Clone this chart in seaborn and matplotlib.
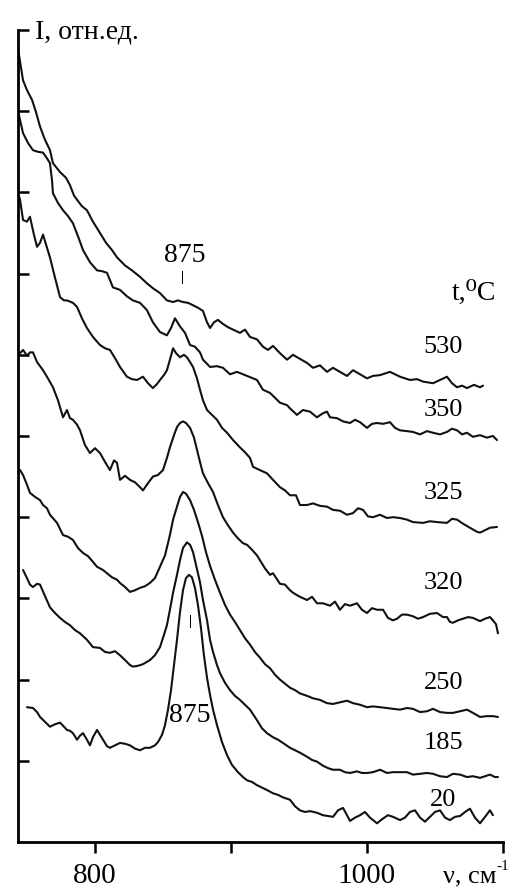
import matplotlib
matplotlib.use("Agg")
import matplotlib.pyplot as plt
import pandas as pd
import seaborn as sns

# IR spectra, wavenumber (cm-1) vs relative intensity
temps = ["530", "350", "325", "320", "250", "185", "20"]

nu_530 = [
    743.4, 744.9, 747.1, 750.0, 753.7, 756.6, 759.6, 763.2, 766.9, 769.1,
    774.3, 778.7, 781.6, 784.6, 786.8, 790.4, 794.1, 798.5, 803.7, 808.1,
    812.5, 816.2, 822.1, 827.2, 833.1, 838.2, 842.6, 847.8, 852.9, 857.4,
    861.0, 864.7, 868.4, 872.1, 875.7, 879.4, 882.4, 884.6, 887.5, 890.4,
    894.1, 897.8, 901.5, 906.6, 910.3, 914.0, 919.1, 923.5, 927.2, 930.9,
    936.0, 941.2, 945.6, 950.7, 955.9, 960.3, 965.4, 970.6, 975.0, 980.1,
    985.3, 989.7, 994.9, 1000.0, 1004.4, 1009.6, 1016.9, 1024.3, 1031.6, 1036.8,
    1041.2, 1048.5, 1053.7, 1058.8, 1062.5, 1066.2, 1069.9, 1073.5, 1078.7, 1083.1,
    1085.3,
]
I_530 = [
    9.78, 9.61, 9.38, 9.26, 9.14, 8.99, 8.81, 8.65, 8.52, 8.36,
    8.25, 8.18, 8.09, 7.96, 7.91, 7.83, 7.78, 7.64, 7.50, 7.38,
    7.29, 7.20, 7.10, 7.04, 6.96, 6.88, 6.82, 6.76, 6.67, 6.65,
    6.67, 6.65, 6.64, 6.61, 6.58, 6.54, 6.40, 6.33, 6.40, 6.43,
    6.38, 6.34, 6.31, 6.27, 6.31, 6.22, 6.19, 6.10, 6.06, 6.11,
    6.02, 5.94, 6.00, 5.95, 5.90, 5.84, 5.87, 5.79, 5.84, 5.79,
    5.74, 5.81, 5.76, 5.71, 5.74, 5.75, 5.79, 5.73, 5.69, 5.70,
    5.67, 5.65, 5.69, 5.73, 5.65, 5.60, 5.62, 5.59, 5.63, 5.60,
    5.62,
]

nu_350 = [
    743.4, 744.9, 747.1, 750.7, 754.4, 758.1, 761.8, 764.7, 766.9, 768.4,
    769.1, 772.8, 776.5, 780.1, 783.8, 787.5, 791.2, 796.3, 801.5, 805.1,
    808.8, 813.2, 818.4, 823.5, 827.9, 833.1, 838.2, 842.6, 847.8, 852.9,
    855.9, 858.8, 862.5, 866.2, 869.9, 873.5, 877.2, 879.4, 884.6, 889.7,
    894.1, 899.3, 904.4, 911.8, 919.1, 923.5, 928.7, 932.4, 936.0, 941.2,
    943.4, 948.5, 952.9, 958.1, 963.2, 967.6, 970.6, 972.8, 977.9, 982.4,
    987.5, 991.2, 994.9, 1000.0, 1003.7, 1007.4, 1011.8, 1016.9, 1020.6, 1024.3,
    1029.4, 1033.8, 1039.0, 1044.1, 1048.5, 1053.7, 1058.8, 1062.5, 1066.2, 1069.9,
    1073.5, 1077.9, 1083.1, 1088.2, 1092.6, 1095.6,
]
I_350 = [
    9.01, 8.89, 8.73, 8.61, 8.52, 8.50, 8.49, 8.42, 8.36, 8.15,
    7.99, 7.87, 7.78, 7.71, 7.62, 7.46, 7.29, 7.14, 7.04, 7.03,
    7.01, 6.83, 6.80, 6.72, 6.67, 6.64, 6.55, 6.40, 6.28, 6.24,
    6.33, 6.45, 6.35, 6.27, 6.12, 6.10, 6.03, 5.94, 5.85, 5.86,
    5.84, 5.76, 5.79, 5.74, 5.69, 5.57, 5.53, 5.47, 5.41, 5.38,
    5.34, 5.26, 5.32, 5.30, 5.23, 5.28, 5.30, 5.23, 5.22, 5.18,
    5.16, 5.20, 5.17, 5.10, 5.15, 5.16, 5.15, 5.17, 5.10, 5.07,
    5.06, 5.05, 5.02, 5.06, 5.04, 5.02, 5.05, 5.09, 5.07, 5.02,
    5.04, 4.99, 5.01, 4.98, 5.00, 4.95,
]

nu_325 = [
    743.4, 744.9, 747.1, 750.0, 752.2, 755.1, 757.4, 759.6, 761.8, 764.7,
    766.9, 770.6, 774.3, 777.2, 779.4, 783.8, 786.8, 790.4, 794.1, 798.5,
    803.7, 807.4, 811.0, 814.7, 818.4, 823.5, 827.2, 830.9, 835.3, 839.0,
    842.6, 845.6, 847.8, 850.7, 852.9, 855.1, 857.4, 859.6, 862.5, 865.4,
    867.6, 869.9, 872.1, 875.0, 877.2, 879.4, 882.4, 886.0, 889.7, 893.4,
    897.1, 901.5, 906.6, 910.3, 914.0, 916.2, 921.3, 926.5, 930.9, 936.0,
    939.7, 943.4, 947.8, 950.7, 955.9, 960.3, 965.4, 970.6, 975.0, 980.1,
    985.3, 989.7, 993.4, 997.1, 1000.7, 1004.4, 1009.6, 1014.7, 1019.1, 1024.3,
    1029.4, 1033.8, 1041.2, 1046.3, 1051.5, 1058.8, 1062.5, 1066.2, 1070.6, 1075.7,
    1080.9, 1083.1, 1086.8, 1090.4, 1095.6,
]
I_325 = [
    7.99, 7.91, 7.66, 7.64, 7.70, 7.48, 7.33, 7.38, 7.48, 7.32,
    7.20, 6.95, 6.71, 6.67, 6.67, 6.64, 6.59, 6.45, 6.33, 6.22,
    6.12, 6.08, 6.06, 5.96, 5.85, 5.73, 5.70, 5.69, 5.73, 5.65,
    5.59, 5.64, 5.69, 5.75, 5.81, 5.94, 6.08, 6.02, 5.97, 6.00,
    5.97, 5.91, 5.85, 5.71, 5.57, 5.44, 5.32, 5.26, 5.20, 5.10,
    5.04, 4.95, 4.86, 4.80, 4.73, 4.62, 4.58, 4.54, 4.46, 4.37,
    4.33, 4.27, 4.27, 4.15, 4.15, 4.17, 4.14, 4.13, 4.09, 4.08,
    4.03, 4.05, 4.11, 4.09, 4.01, 4.00, 4.03, 3.99, 4.00, 3.99,
    3.97, 3.94, 3.93, 3.95, 3.94, 3.93, 3.98, 3.97, 3.92, 3.87,
    3.82, 3.81, 3.84, 3.87, 3.88,
]

nu_320 = [
    744.9, 747.1, 750.0, 752.2, 754.4, 757.4, 761.8, 765.4, 769.1, 772.8,
    776.5, 779.4, 781.6, 783.8, 786.8, 789.0, 792.6, 796.3, 800.0, 803.7,
    807.4, 811.0, 814.0, 816.2, 818.4, 822.1, 825.7, 829.4, 833.1, 835.3,
    839.0, 842.6, 846.3, 850.0, 852.9, 855.1, 858.1, 860.3, 862.5, 864.7,
    866.9, 869.9, 872.8, 875.0, 877.2, 879.4, 883.1, 886.8, 890.4, 894.1,
    897.8, 901.5, 905.1, 908.8, 911.8, 915.4, 919.1, 921.3, 925.0, 928.7,
    930.9, 936.0, 939.7, 943.4, 945.6, 948.5, 950.7, 955.9, 959.6, 963.2,
    967.6, 972.8, 976.5, 980.1, 983.8, 987.5, 992.6, 996.3, 1000.0, 1003.7,
    1007.4, 1011.8, 1015.4, 1019.1, 1022.1, 1025.7, 1029.4, 1033.8, 1037.5, 1041.2,
    1046.3, 1051.5, 1055.9, 1058.8, 1061.0, 1063.2, 1066.9, 1070.6, 1074.3, 1077.9,
    1083.1, 1086.8, 1090.4, 1092.6, 1094.9, 1096.3,
]
I_320 = [
    6.02, 6.06, 5.99, 6.03, 6.03, 5.91, 5.81, 5.71, 5.60, 5.44,
    5.23, 5.32, 5.22, 5.20, 5.14, 5.07, 4.89, 4.79, 4.85, 4.79,
    4.68, 4.58, 4.70, 4.67, 4.46, 4.51, 4.46, 4.43, 4.37, 4.33,
    4.42, 4.50, 4.52, 4.58, 4.73, 4.86, 5.01, 5.11, 5.16, 5.18,
    5.16, 5.10, 4.98, 4.83, 4.68, 4.54, 4.42, 4.31, 4.15, 4.00,
    3.90, 3.81, 3.74, 3.68, 3.66, 3.60, 3.53, 3.47, 3.37, 3.29,
    3.31, 3.18, 3.17, 3.10, 3.07, 3.04, 3.02, 2.98, 3.02, 2.94,
    2.94, 2.91, 2.96, 2.86, 2.93, 2.91, 2.94, 2.86, 2.82, 2.88,
    2.86, 2.86, 2.76, 2.73, 2.75, 2.80, 2.80, 2.78, 2.75, 2.77,
    2.81, 2.82, 2.77, 2.77, 2.71, 2.70, 2.73, 2.75, 2.77, 2.76,
    2.72, 2.75, 2.77, 2.73, 2.68, 2.57,
]

nu_250 = [
    744.9, 747.1, 750.0, 752.2, 755.9, 759.6, 761.8, 764.7, 766.9, 772.1,
    776.5, 780.1, 783.8, 787.5, 791.2, 794.9, 798.5, 801.5, 805.9, 808.8,
    812.5, 816.2, 818.4, 822.1, 825.7, 829.4, 833.1, 836.8, 840.4, 844.1,
    847.8, 851.5, 855.1, 857.4, 860.3, 862.5, 864.7, 866.9, 869.9, 872.8,
    875.7, 878.7, 881.6, 884.6, 888.2, 891.9, 895.6, 899.3, 902.9, 906.6,
    910.3, 914.0, 917.6, 921.3, 925.0, 928.7, 932.4, 936.0, 939.7, 943.4,
    947.1, 950.7, 955.9, 960.3, 965.4, 970.6, 975.0, 980.1, 985.3, 989.7,
    994.9, 1000.0, 1004.4, 1009.6, 1014.7, 1019.1, 1024.3, 1029.4, 1033.8, 1039.0,
    1044.1, 1048.5, 1053.7, 1058.8, 1063.2, 1068.4, 1073.5, 1077.9, 1083.1, 1088.2,
    1092.6, 1096.3,
]
I_250 = [
    4.58, 4.52, 4.40, 4.30, 4.25, 4.21, 4.15, 4.11, 4.03, 3.93,
    3.78, 3.76, 3.72, 3.62, 3.56, 3.52, 3.45, 3.39, 3.35, 3.31,
    3.26, 3.23, 3.19, 3.14, 3.08, 3.10, 3.13, 3.15, 3.19, 3.25,
    3.39, 3.53, 3.78, 3.97, 4.13, 4.25, 4.31, 4.29, 4.21, 4.09,
    3.94, 3.77, 3.57, 3.40, 3.23, 3.07, 2.92, 2.80, 2.71, 2.61,
    2.51, 2.43, 2.34, 2.27, 2.19, 2.14, 2.06, 2.00, 1.95, 1.90,
    1.87, 1.83, 1.80, 1.77, 1.75, 1.71, 1.70, 1.72, 1.74, 1.71,
    1.69, 1.66, 1.67, 1.66, 1.65, 1.64, 1.63, 1.65, 1.64, 1.60,
    1.61, 1.64, 1.60, 1.59, 1.59, 1.61, 1.63, 1.59, 1.54, 1.55,
    1.55, 1.54,
]

nu_185 = [
    747.1, 750.0, 752.2, 754.4, 757.4, 759.6, 763.2, 766.9, 770.6, 774.3,
    777.9, 781.6, 785.3, 789.0, 794.1, 798.5, 803.7, 807.4, 811.0, 814.7,
    818.4, 822.1, 825.7, 827.9, 831.6, 835.3, 840.4, 844.1, 847.8, 850.7,
    852.9, 855.1, 857.4, 860.3, 862.5, 864.7, 867.6, 869.9, 872.1, 874.3,
    877.2, 879.4, 882.4, 884.6, 886.8, 889.7, 891.9, 895.6, 899.3, 902.9,
    906.6, 910.3, 914.0, 919.1, 922.8, 926.5, 930.9, 934.6, 938.2, 943.4,
    947.1, 950.7, 955.9, 959.6, 963.2, 967.6, 971.3, 975.0, 980.1, 983.8,
    987.5, 992.6, 996.3, 1000.0, 1004.4, 1009.6, 1014.7, 1019.1, 1024.3, 1029.4,
    1033.8, 1039.0, 1044.1, 1048.5, 1053.7, 1058.8, 1063.2, 1068.4, 1073.5, 1077.9,
    1083.1, 1086.8, 1090.4, 1094.1, 1096.3,
]
I_185 = [
    3.35, 3.25, 3.17, 3.14, 3.18, 3.17, 3.03, 2.89, 2.82, 2.76,
    2.71, 2.67, 2.61, 2.57, 2.49, 2.40, 2.39, 2.34, 2.33, 2.35,
    2.30, 2.24, 2.18, 2.16, 2.17, 2.19, 2.24, 2.30, 2.40, 2.55,
    2.67, 2.86, 3.07, 3.29, 3.47, 3.62, 3.69, 3.66, 3.57, 3.41,
    3.20, 2.98, 2.73, 2.49, 2.34, 2.18, 2.08, 1.96, 1.87, 1.80,
    1.75, 1.69, 1.63, 1.50, 1.40, 1.34, 1.29, 1.26, 1.22, 1.16,
    1.13, 1.10, 1.05, 1.01, 0.99, 0.94, 0.91, 0.89, 0.89, 0.86,
    0.85, 0.87, 0.85, 0.85, 0.86, 0.89, 0.85, 0.86, 0.86, 0.86,
    0.83, 0.84, 0.85, 0.84, 0.81, 0.80, 0.84, 0.83, 0.80, 0.81,
    0.79, 0.81, 0.83, 0.80, 0.80,
]

nu_20 = [
    750.0, 754.4, 757.4, 759.6, 763.2, 766.9, 770.6, 774.3, 777.2, 779.4,
    781.6, 783.8, 786.8, 789.0, 791.2, 794.1, 796.3, 798.5, 801.5, 803.7,
    805.9, 808.8, 811.0, 814.7, 818.4, 822.1, 825.7, 829.4, 833.1, 836.8,
    840.4, 844.1, 846.3, 849.3, 851.5, 853.7, 855.9, 858.1, 860.3, 862.5,
    864.7, 866.9, 869.1, 871.3, 873.5, 875.7, 877.9, 880.1, 882.4, 884.6,
    886.8, 889.7, 893.4, 897.1, 900.7, 905.1, 908.8, 911.8, 915.4, 919.1,
    922.8, 926.5, 930.9, 934.6, 938.2, 943.4, 947.1, 950.7, 954.4, 958.1,
    963.2, 967.6, 971.3, 975.0, 978.7, 982.4, 985.3, 987.5, 991.2, 994.9,
    998.5, 1002.2, 1007.4, 1011.0, 1015.4, 1019.1, 1024.3, 1027.9, 1031.6, 1035.3,
    1039.0, 1042.6, 1046.3, 1050.0, 1053.7, 1057.4, 1061.0, 1064.7, 1068.4, 1072.1,
    1075.7, 1079.4, 1083.1, 1086.8, 1090.4, 1092.6,
]
I_20 = [
    1.66, 1.65, 1.60, 1.54, 1.48, 1.42, 1.45, 1.47, 1.42, 1.38,
    1.37, 1.34, 1.26, 1.31, 1.34, 1.26, 1.19, 1.29, 1.38, 1.32,
    1.26, 1.18, 1.16, 1.19, 1.22, 1.21, 1.19, 1.15, 1.13, 1.16,
    1.16, 1.19, 1.23, 1.32, 1.44, 1.63, 1.87, 2.18, 2.49, 2.83,
    3.10, 3.25, 3.29, 3.26, 3.13, 2.92, 2.64, 2.30, 2.02, 1.81,
    1.63, 1.44, 1.23, 1.07, 0.95, 0.86, 0.80, 0.76, 0.74, 0.70,
    0.67, 0.64, 0.60, 0.58, 0.55, 0.52, 0.44, 0.39, 0.37, 0.38,
    0.36, 0.33, 0.32, 0.31, 0.39, 0.42, 0.33, 0.26, 0.30, 0.33,
    0.37, 0.30, 0.23, 0.28, 0.33, 0.31, 0.27, 0.30, 0.37, 0.39,
    0.30, 0.25, 0.31, 0.37, 0.39, 0.30, 0.27, 0.31, 0.32, 0.37,
    0.41, 0.30, 0.23, 0.31, 0.39, 0.33,
]

x_ticks = [800, 900, 1000, 1100]
x_ticklabels = ["800", "", "1000", ""]


def build_frame():
    curves = [
        (nu_530, I_530), (nu_350, I_350), (nu_325, I_325), (nu_320, I_320),
        (nu_250, I_250), (nu_185, I_185), (nu_20, I_20),
    ]
    parts = []
    for t, (nu, inten) in zip(temps, curves):
        parts.append(pd.DataFrame({"nu": nu, "I": inten, "t": t}))
    return pd.concat(parts, ignore_index=True)


def main():
    sns.set_theme(style="white")
    plt.rcParams["font.family"] = ["Liberation Serif", "DejaVu Serif"]

    df = build_frame()

    fig = plt.figure(figsize=(5.31, 8.91), dpi=100)
    ax = fig.add_axes([18 / 531, 49 / 891, 485 / 531, 812 / 891])

    sns.lineplot(
        data=df, x="nu", y="I", units="t", estimator=None, sort=False,
        color="#111111", linewidth=1.5, legend=False, ax=ax,
    )

    ax.set_xlim(743.4, 1100)
    ax.set_ylim(0, 10)
    ax.set_xlabel("")
    ax.set_ylabel("")

    for side in ["top", "right"]:
        ax.spines[side].set_visible(False)
    for side in ["left", "bottom"]:
        ax.spines[side].set_color("black")
        ax.spines[side].set_linewidth(2.0)

    ax.set_yticks(range(1, 11))
    ax.set_yticklabels([])
    ax.tick_params(axis="y", direction="in", length=8, width=1.8, color="black", left=True)

    ax.set_xticks(x_ticks)
    ax.set_xticklabels(x_ticklabels)
    ax.tick_params(axis="x", direction="out", length=8, width=1.8, color="black",
                   bottom=True, labelsize=21, pad=7, labelcolor="black")

    # curve labels (temperatures) on the right
    label_y = [6.10, 5.32, 4.30, 3.19, 1.96, 1.22, 0.52]
    for t, y in zip(temps, label_y):
        ax.text(1056, y, t, fontsize=19, ha="center", va="center", color="black")
    ax.text(1079, 6.76, "t,\u2070C", fontsize=20, ha="center", va="center", color="black")

    # 875 band markers
    ax.text(866.2, 7.22, "875", fontsize=20, ha="center", va="center", color="black")
    ax.text(864.7, 6.95, "|", fontsize=10, fontweight="bold", ha="center", va="center", color="black")
    ax.text(869.9, 2.71, "|", fontsize=10, fontweight="bold", ha="center", va="center", color="black")
    ax.text(869.9, 1.56, "875", fontsize=20, ha="center", va="center", color="black")

    fig.text(35 / 531, 1 - 32 / 891, "I, отн.ед.", fontsize=20, ha="left", va="center", color="black")
    xlab = fig.text(443 / 531, 9 / 891, "ν, см", fontsize=19, ha="left", va="baseline", color="black")
    ax.annotate("-1", xy=(1.0, 0.95), xycoords=xlab, fontsize=11,
                ha="left", va="center", color="black", annotation_clip=False)

    fig.savefig("out.png", dpi=100)
    plt.close(fig)


if __name__ == "__main__":
    main()
